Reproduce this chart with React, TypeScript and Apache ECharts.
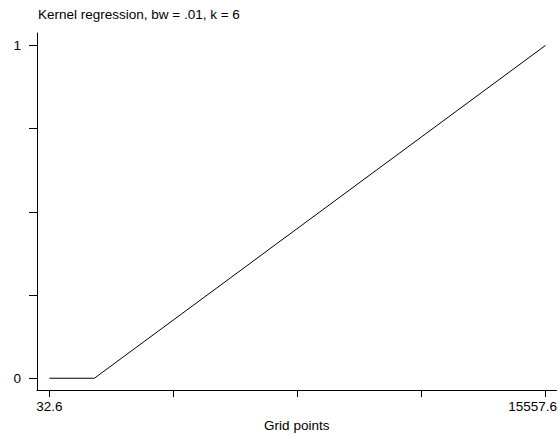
import React, { useEffect, useRef } from "react";
import * as echarts from "echarts";

const titleText = "Kernel regression, bw = .01, k = 6";
const gridPoints = [32.6, 1440, 15557.6];
const fitted = [0, 0, 1];
const xTicks = [32.6, 3913.85, 7795.1, 11676.35, 15557.6];
const xLabels = [32.6, 15557.6];
const yTicks = [0, 0.25, 0.5, 0.75, 1];
const yLabels = [0, 1];

const FONT = "'Liberation Sans', Arial, sans-serif";
const FS = 13.5;

export default function App() {
  const ref = useRef<HTMLDivElement>(null);
  useEffect(() => {
    if (!ref.current) return;
    const chart = echarts.init(ref.current, null, { renderer: "svg", width: 560, height: 437 });
    chart.setOption({
      animation: false,
      backgroundColor: "#fff",
      textStyle: { fontFamily: FONT },
      graphic: [
        {
          type: "text",
          x: 38,
          y: 7.5,
          style: { text: titleText, fontSize: FS, fill: "#000", fontFamily: FONT },
        },
      ],
      grid: { left: 37, right: 0, top: 33, bottom: 42, containLabel: false },
      xAxis: {
        type: "value",
        min: -355.9,
        max: 15899.5,
        name: "Grid points",
        nameLocation: "middle",
        nameGap: 26,
        nameTextStyle: { fontSize: FS, color: "#000", fontFamily: FONT },
        splitLine: { show: false },
        axisLine: { show: true, onZero: false, lineStyle: { color: "#000", width: 1 } },
        axisTick: { show: true, length: 7, customValues: xTicks, lineStyle: { color: "#000" } },
        axisLabel: {
          show: true,
          customValues: xLabels,
          margin: 9,
          fontSize: FS,
          color: "#000",
          fontFamily: FONT,
          formatter: (v: number) =>
            v === 15557.6 ? "{r|" + v.toFixed(1) + "}" : v.toFixed(1),
          rich: { r: { fontSize: FS, color: "#000", fontFamily: FONT, padding: [0, 26, 0, 0] } },
        },
      },
      yAxis: {
        type: "value",
        min: -0.0356,
        max: 1.037,
        splitLine: { show: false },
        axisLine: { show: true, onZero: false, lineStyle: { color: "#000", width: 1 } },
        axisTick: { show: true, length: 8, customValues: yTicks, lineStyle: { color: "#000" } },
        axisLabel: {
          show: true,
          customValues: yLabels,
          margin: 16,
          fontSize: FS,
          color: "#000",
          fontFamily: FONT,
          formatter: (v: number) => String(v),
        },
      },
      series: [
        {
          type: "line",
          data: gridPoints.map((x, i) => [x, fitted[i]]),
          showSymbol: false,
          symbol: "none",
          lineStyle: { color: "#000", width: 1 },
        },
      ],
    });
    return () => chart.dispose();
  }, []);
  return <div ref={ref} style={{ width: 560, height: 437, position: "absolute", left: 0, top: 0 }} />;
}
